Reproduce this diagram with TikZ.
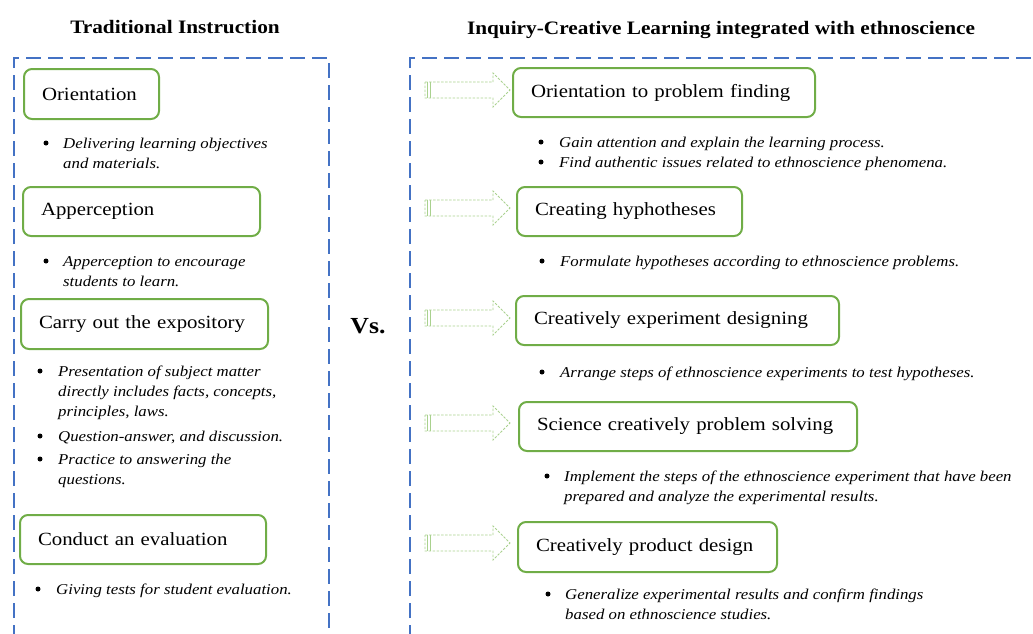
\documentclass[tikz,border=0pt]{standalone}
\usepackage{fontspec}
\setmainfont{Liberation Serif}[FakeStretch=1.12]
\definecolor{frameblue}{HTML}{4472C4}
\definecolor{boxgreen}{HTML}{70AD47}
\definecolor{arrgreen}{HTML}{A9D18E}
\newcommand\blkarrow[1]{%
  \draw[flowarrow] (425,{#1-8}) -- (493,{#1-8}) -- (493,{#1-17}) -- (510,#1) -- (493,{#1+17}) -- (493,{#1+8}) -- (425,{#1+8}) -- cycle;
  \draw[arrgreen, line width=0.5pt] (427.5,{#1-8}) -- (427.5,{#1+8}) (430,{#1-8}) -- (430,{#1+8});
}
\newcommand\lns[1]{\begin{tabular}[t]{@{}l@{}}#1\end{tabular}}
\begin{document}
\begin{tikzpicture}[x=1pt,y=-1pt,
  frame/.style={draw=frameblue, line width=2pt, dash pattern=on 15pt off 7pt},
  stepbox/.style={draw=boxgreen, line width=2pt, rounded corners=8pt, anchor=north west,
     inner xsep=18pt, inner ysep=0pt, align=left, font=\fontsize{18.6}{22}\selectfont},
  bul/.style={circle, fill=black, inner sep=0pt, minimum size=5pt},
  btext/.style={anchor=base west, inner sep=0pt, font=\fontsize{15}{20}\selectfont\itshape},
  ttl/.style={anchor=base, inner sep=0pt, font=\fontsize{19}{22}\selectfont\bfseries},
  flowarrow/.style={draw=arrgreen, line width=0.8pt, dash pattern=on 2.5pt off 1.5pt}
]
\useasboundingbox (0,0) rectangle (1033,633);

% titles
\node[ttl] (t1) at (175,33) {Traditional Instruction};
\node[ttl] (t2) at (721,34) {Inquiry-Creative Learning integrated with ethnoscience};

% frames
\draw[frame] (14,640) -- (14,58) -- (329,58) -- (329,640);
\draw[frame] (410,640) -- (410,58) -- (1045,58);

% left boxes
\node[stepbox, text width=99pt, minimum height=50pt] (l1) at (23,68) {Orientation};
\node[stepbox, text width=201pt, minimum height=49pt] (l2) at (22,186) {Apperception};
\node[stepbox, text width=211pt, minimum height=50pt] (l3) at (20,298) {Carry out the expository};
\node[stepbox, text width=210pt, minimum height=49pt] (l4) at (19,514) {Conduct an evaluation};

% left bullets
\node[bul] (lb1) at (46,143) {};
\node[btext] (lx1) at (63,148) {\lns{Delivering learning objectives\\and materials.}};
\node[bul] (lb2) at (46,261) {};
\node[btext] (lx2) at (63,266) {\lns{Apperception to encourage\\students to learn.}};
\node[bul] (lb3) at (40,371) {};
\node[btext] (lx3) at (58,376) {\lns{Presentation of subject matter\\directly includes facts, concepts,\\principles, laws.}};
\node[bul] (lb4) at (40,436) {};
\node[btext] (lx4) at (58,441) {Question-answer, and discussion.};
\node[bul] (lb5) at (40,459) {};
\node[btext] (lx5) at (58,464) {\lns{Practice to answering the\\questions.}};
\node[bul] (lb6) at (38,589) {};
\node[btext] (lx6) at (56,594) {Giving tests for student evaluation.};

% Vs.
\node[anchor=base, inner sep=0pt, font=\fontsize{23}{26}\selectfont\bfseries] (vs) at (368,333) {Vs.};

% arrows
\blkarrow{90}
\blkarrow{208}
\blkarrow{318}
\blkarrow{423}
\blkarrow{543}

% right boxes
\node[stepbox, text width=266pt, minimum height=49pt] (r1) at (512,67) {Orientation to problem finding};
\node[stepbox, text width=189pt, minimum height=49pt] (r2) at (516,186) {Creating hyphotheses};
\node[stepbox, text width=287pt, minimum height=49pt] (r3) at (515,295) {Creatively experiment designing};
\node[stepbox, text width=302pt, minimum height=49pt] (r4) at (518,401) {\mbox{Science creatively problem solving}};
\node[stepbox, text width=223pt, minimum height=50pt] (r5) at (517,521) {Creatively product design};

% right bullets
\node[bul] (rb1) at (541,142) {};
\node[btext] (rx1) at (559,147) {Gain attention and explain the learning process.};
\node[bul] (rb2) at (541,162) {};
\node[btext] (rx2) at (559,167) {Find authentic issues related to ethnoscience phenomena.};
\node[bul] (rb3) at (542,261) {};
\node[btext] (rx3) at (560,266) {Formulate hypotheses according to ethnoscience problems.};
\node[bul] (rb4) at (542,372) {};
\node[btext] (rx4) at (560,377) {Arrange steps of ethnoscience experiments to test hypotheses.};
\node[bul] (rb5) at (547,476) {};
\node[btext] (rx5) at (564,481) {\lns{Implement the steps of the ethnoscience experiment that have been\\prepared and analyze the experimental results.}};
\node[bul] (rb6) at (548,594) {};
\node[btext] (rx6) at (565,599) {\lns{Generalize experimental results and confirm findings\\based on ethnoscience studies.}};
\end{tikzpicture}
\end{document}
